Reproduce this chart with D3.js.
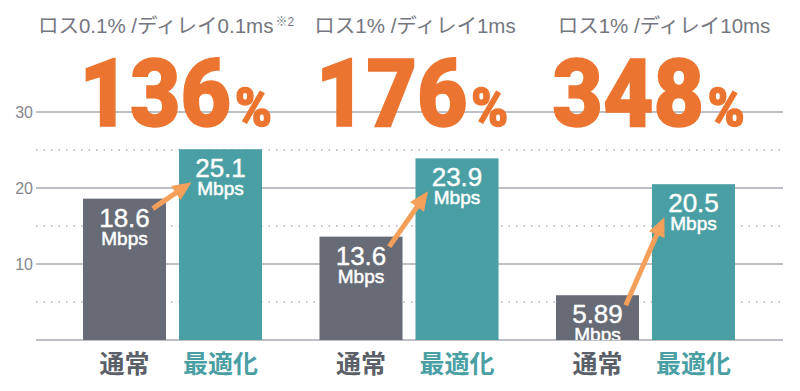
<!DOCTYPE html>
<html><head><meta charset="utf-8">
<script src="https://cdn.jsdelivr.net/npm/d3@7"></script>
<style>
html,body{margin:0;padding:0;background:#fff;}
svg{display:block;}
</style></head>
<body><svg id="chart" width="800" height="391"></svg>
<script>
const groups = ["g1", "g2", "g3"];
const headings = ["ロス0.1% /ディレイ0.1ms", "ロス1% /ディレイ1ms", "ロス1% /ディレイ10ms"];
const headingNotes = ["※2", "", ""];
const improvementLabels = ["136", "176", "348"];
const series = ["通常", "最適化"];
const normalValues = [18.6, 13.6, 5.89];
const optimizedValues = [25.1, 23.9, 20.5];
const normalLabels = ["18.6", "13.6", "5.89"];
const optimizedLabels = ["25.1", "23.9", "20.5"];
const unitLabel = "Mbps";
const majorTicks = [10, 20, 30];
const minorTicks = [5, 15, 25];

const colors = {"通常": "#676b76", "最適化": "#4a9fa4"};
const catColors = {"通常": "#5b5f67", "最適化": "#4a9fa4"};

const svg = d3.select("#chart");
const y = d3.scaleLinear().domain([0, 30]).range([340, 112]);
const x0 = d3.scaleBand().domain(groups).range([83, 735]).paddingInner(0.243).paddingOuter(0);
const x1 = d3.scaleBand().domain(series).range([0, x0.bandwidth()]).paddingInner(0.135).paddingOuter(0);
const xh = d3.scalePoint().domain(groups).range([166, 664]);
const gridX = [36, 783];

// grid
const grid = svg.append("g");
grid.selectAll("line.major").data([0].concat(majorTicks)).join("line")
  .attr("x1", gridX[0]).attr("x2", gridX[1])
  .attr("y1", d => y(d)).attr("y2", d => y(d))
  .attr("stroke", "#a9a9b2").attr("stroke-width", 1.6);
grid.selectAll("line.minor").data(minorTicks).join("line")
  .attr("x1", gridX[0]).attr("x2", gridX[1])
  .attr("y1", d => y(d)).attr("y2", d => y(d))
  .attr("stroke", "#b0b0b8").attr("stroke-width", 1.5).attr("stroke-dasharray", "1.5,6");

const yAxis = d3.axisLeft(y).tickValues(majorTicks).tickSize(0).tickPadding(3);
const ya = svg.append("g").attr("transform", `translate(${gridX[0]},0)`).call(yAxis);
ya.select(".domain").remove();
ya.selectAll("text").attr("font-family", "Liberation Sans, Arial, sans-serif")
  .attr("font-size", 16).attr("fill", "#85868d");

// data rows
const rows = groups.map((g, i) => ({
  g, i,
  vals: [
    {s: "通常", v: normalValues[i], label: normalLabels[i]},
    {s: "最適化", v: optimizedValues[i], label: optimizedLabels[i]}
  ]
}));

svg.append("defs").append("clipPath").attr("id", "plotclip")
  .append("rect").attr("x", 0).attr("y", 0).attr("width", 800).attr("height", y(0));

const gg = svg.selectAll("g.grp").data(rows).join("g").attr("class", "grp")
  .attr("transform", d => `translate(${x0(d.g)},0)`);

gg.selectAll("rect").data(d => d.vals).join("rect")
  .attr("x", d => x1(d.s)).attr("width", x1.bandwidth())
  .attr("y", d => y(d.v)).attr("height", d => y(0) - y(d.v))
  .attr("fill", d => colors[d.s]);

const lab = gg.append("g").attr("clip-path", "url(#plotclip)");
lab.selectAll("text.val").data(d => d.vals).join("text").attr("class", "val")
  .attr("x", d => x1(d.s) + x1.bandwidth() / 2).attr("y", d => y(d.v) + 28)
  .attr("text-anchor", "middle").attr("fill", "#fff")
  .attr("stroke", "#fff").attr("stroke-width", 0.4)
  .attr("font-family", "Liberation Sans, Arial, sans-serif").attr("font-size", 26)
  .text(d => d.label);
lab.selectAll("text.unit").data(d => d.vals).join("text").attr("class", "unit")
  .attr("x", d => x1(d.s) + x1.bandwidth() / 2).attr("y", d => y(d.v) + 46)
  .attr("text-anchor", "middle").attr("fill", "#fff")
  .attr("stroke", "#fff").attr("stroke-width", 0.5)
  .attr("font-family", "Liberation Sans, Arial, sans-serif").attr("font-size", 19)
  .text(unitLabel);

// category labels
gg.selectAll("text.cat").data(d => d.vals).join("text").attr("class", "cat")
  .attr("x", d => x1(d.s) + x1.bandwidth() / 2).attr("y", 373)
  .attr("text-anchor", "middle").attr("fill", d => catColors[d.s])
  .attr("font-family", "Noto Sans CJK JP, sans-serif").attr("font-size", 25).attr("font-weight", "bold")
  .text(d => d.s);

// arrows
const bw = x1.bandwidth();
const arrowColor = "#f5a05a";
rows.forEach(r => {
  const gx = x0(r.g);
  const sx = gx + x1("通常") + bw * 0.84, sy = y(r.vals[0].v) + 10;
  const ex = gx + x1("最適化") + bw * 0.15, ey = y(r.vals[1].v) + 33;
  const ang = Math.atan2(ey - sy, ex - sx);
  const hl = 19, hw = 8.5;
  const bx = ex - hl * Math.cos(ang), by = ey - hl * Math.sin(ang);
  const px = -Math.sin(ang), py = Math.cos(ang);
  svg.append("line").attr("x1", sx).attr("y1", sy).attr("x2", bx + 2 * Math.cos(ang)).attr("y2", by + 2 * Math.sin(ang))
    .attr("stroke", arrowColor).attr("stroke-width", 5);
  svg.append("path")
    .attr("d", `M${ex},${ey}L${bx + hw * px},${by + hw * py}L${bx - hw * px},${by - hw * py}Z`)
    .attr("fill", arrowColor);
});

// headings
const ht = svg.selectAll("text.head").data(rows).join("text").attr("class", "head")
  .attr("x", d => xh(d.g)).attr("y", 33).attr("text-anchor", "middle")
  .attr("fill", "#74777f").attr("font-family", "Liberation Sans, Noto Sans CJK JP, sans-serif")
  .attr("font-size", 20.5);
ht.append("tspan").text(d => headings[d.i]);
ht.append("tspan").attr("font-size", 12).attr("dy", -7).attr("dx", 2).text(d => headingNotes[d.i]);

// big improvement numbers
const big = svg.selectAll("g.big").data(rows).join("g").attr("class", "big")
  .attr("transform", d => `translate(${x0(d.g) + x0.bandwidth() / 2 + 3},126) scale(0.92,1)`);
const bt = big.append("text").attr("text-anchor", "middle").attr("fill", "#eb7530")
  .attr("stroke", "#eb7530").attr("stroke-width", 1.5)
  .attr("font-family", "Roboto, sans-serif").attr("font-weight", 900);
bt.append("tspan").attr("font-size", 95).text(d => improvementLabels[d.i]);
bt.append("tspan").attr("font-size", 54).attr("dx", 4).text("%");
</script></body></html>
